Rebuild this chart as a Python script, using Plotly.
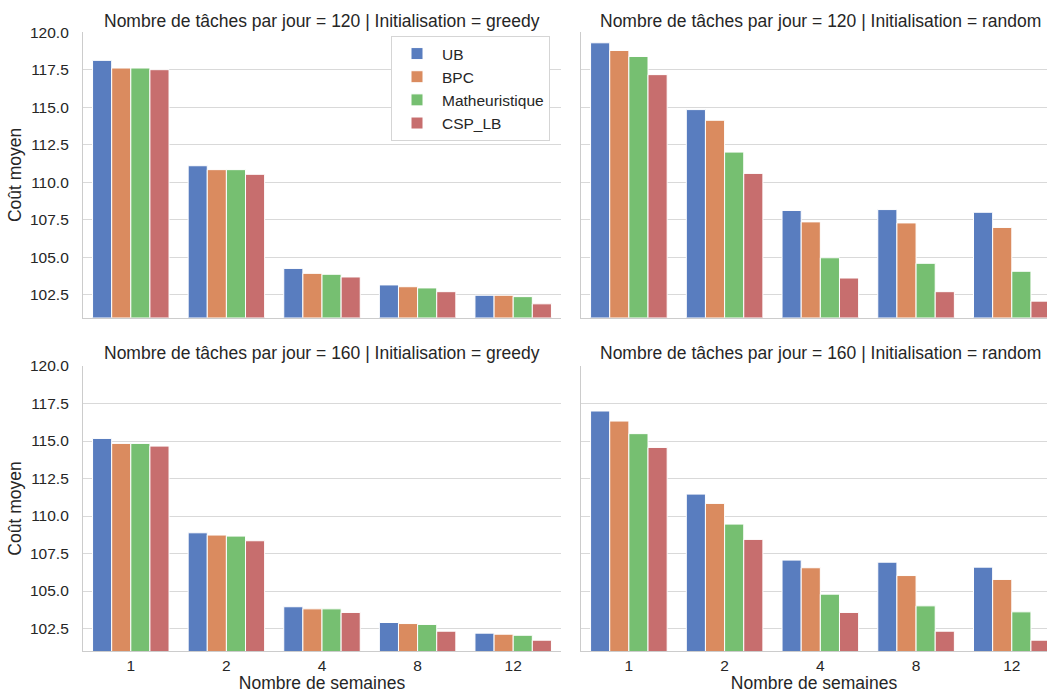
import plotly.graph_objects as go

# ---------------- data ----------------
weeks = ["1", "2", "4", "8", "12"]
methods = ["UB", "BPC", "Matheuristique", "CSP_LB"]
colors = ["#597DBF", "#DA8B5F", "#76BF71", "#C76E6E"]

# Nombre de tâches par jour = 120 | Initialisation = greedy
ub_120_greedy = [118.13, 111.11, 104.27, 103.17, 102.48]
bpc_120_greedy = [117.62, 110.85, 103.94, 103.05, 102.48]
math_120_greedy = [117.62, 110.85, 103.88, 102.97, 102.39]
csp_120_greedy = [117.51, 110.54, 103.70, 102.72, 101.91]

# Nombre de tâches par jour = 120 | Initialisation = random
ub_120_random = [119.30, 114.85, 108.13, 108.19, 108.01]
bpc_120_random = [118.79, 114.14, 107.37, 107.30, 107.00]
math_120_random = [118.39, 112.02, 104.98, 104.61, 104.08]
csp_120_random = [117.18, 110.60, 103.63, 102.72, 102.09]

# Nombre de tâches par jour = 160 | Initialisation = greedy
ub_160_greedy = [115.17, 108.88, 103.95, 102.90, 102.19]
bpc_160_greedy = [114.84, 108.73, 103.81, 102.83, 102.12]
math_160_greedy = [114.84, 108.66, 103.81, 102.77, 102.05]
csp_160_greedy = [114.66, 108.35, 103.57, 102.32, 101.72]

# Nombre de tâches par jour = 160 | Initialisation = random
ub_160_random = [117.00, 111.46, 107.06, 106.92, 106.59]
bpc_160_random = [116.33, 110.84, 106.55, 106.03, 105.77]
math_160_random = [115.49, 109.46, 104.79, 104.01, 103.61]
csp_160_random = [114.57, 108.44, 103.57, 102.32, 101.72]

panel_titles = [
    "Nombre de tâches par jour = 120 | Initialisation = greedy",
    "Nombre de tâches par jour = 120 | Initialisation = random",
    "Nombre de tâches par jour = 160 | Initialisation = greedy",
    "Nombre de tâches par jour = 160 | Initialisation = random",
]
panel_data = [
    [ub_120_greedy, bpc_120_greedy, math_120_greedy, csp_120_greedy],
    [ub_120_random, bpc_120_random, math_120_random, csp_120_random],
    [ub_160_greedy, bpc_160_greedy, math_160_greedy, csp_160_greedy],
    [ub_160_random, bpc_160_random, math_160_random, csp_160_random],
]
y_ticks = [102.5, 105.0, 107.5, 110.0, 112.5, 115.0, 117.5, 120.0]
y_range = [101.0, 120.0]
x_label = "Nombre de semaines"
y_label = "Coût moyen"

# ---------------- layout geometry ----------------
W, H = 1047, 693
FONT = "Liberation Sans, Arial, sans-serif"
TXT = "#262626"
GRID = "#D9D9D9"
AXL = "#CCCCCC"

x_dom = [[83 / W, 561 / W], [581 / W, 1.0]]
y_dom = [[1 - 317.5 / H, 1 - 32.3 / H], [1 - 651 / H, 1 - 366 / H]]
x_ranges = [[-0.5, 4.5], [-0.5, (W - 627.7) / 96.0]]

fig = go.Figure()

for p in range(4):
    row, col = divmod(p, 2)
    suffix = "" if p == 0 else str(p + 1)
    for m, name in enumerate(methods):
        fig.add_trace(go.Bar(
            x=weeks,
            y=panel_data[p][m],
            name=name,
            legendgroup=name,
            showlegend=(p == 0),
            marker=dict(color=colors[m], line=dict(color="white", width=1)),
            xaxis="x" + suffix,
            yaxis="y" + suffix,
        ))

    xa = dict(
        domain=x_dom[col],
        anchor="y" + suffix,
        type="category",
        categoryorder="array",
        categoryarray=weeks,
        range=x_ranges[col],
        automargin=False,
        showgrid=False,
        showline=True,
        linecolor=AXL,
        linewidth=1.25,
        ticks="",
        showticklabels=(row == 1),
        ticklabelstandoff=0,
        tickfont=dict(size=15.5, color=TXT, family=FONT),
        zeroline=False,
    )
    if row == 1:
        xa["title"] = dict(text=x_label, font=dict(size=17.5, color=TXT, family=FONT), standoff=3)
    ya = dict(
        domain=y_dom[row],
        anchor="x" + suffix,
        range=y_range,
        automargin=False,
        tickvals=y_ticks,
        tickformat=".1f",
        showgrid=True,
        gridcolor=GRID,
        gridwidth=1,
        showline=True,
        linecolor=AXL,
        linewidth=1.25,
        ticks="",
        showticklabels=(col == 0),
        ticklabelstandoff=10,
        tickfont=dict(size=15.5, color=TXT, family=FONT),
        zeroline=False,
    )
    if col == 0:
        ya["title"] = dict(text=y_label, font=dict(size=17.5, color=TXT, family=FONT), standoff=3)
    fig.layout["xaxis" + suffix] = xa
    fig.layout["yaxis" + suffix] = ya

    # panel title
    cx = (83 + 561) / 2 if col == 0 else (581 + 1059.7) / 2
    cy = 20.5 if row == 0 else 353.5
    fig.add_annotation(
        text=panel_titles[p], xref="paper", yref="paper",
        x=cx / W, y=1 - cy / H, xanchor="center", yanchor="middle",
        showarrow=False, font=dict(size=17.5, color=TXT, family=FONT),
    )

fig.update_layout(
    template="none",
    width=W, height=H,
    margin=dict(l=0, r=0, t=0, b=0, pad=0),
    paper_bgcolor="white",
    plot_bgcolor="white",
    barmode="group",
    bargap=0.2,
    bargroupgap=0.0,
    font=dict(family=FONT, color=TXT),
    legend=dict(
        x=391 / W, y=1 - 36 / H, xanchor="left", yanchor="top",
        bgcolor="white", bordercolor="#D5D5D5", borderwidth=1,
        font=dict(size=15.5, color=TXT, family=FONT),
        tracegroupgap=0,
        itemwidth=40,
    ),
)

fig.write_html(
    "out.html",
    config={"displayModeBar": False},
    post_script="document.body.style.margin='0';document.body.style.overflow='hidden';",
)
